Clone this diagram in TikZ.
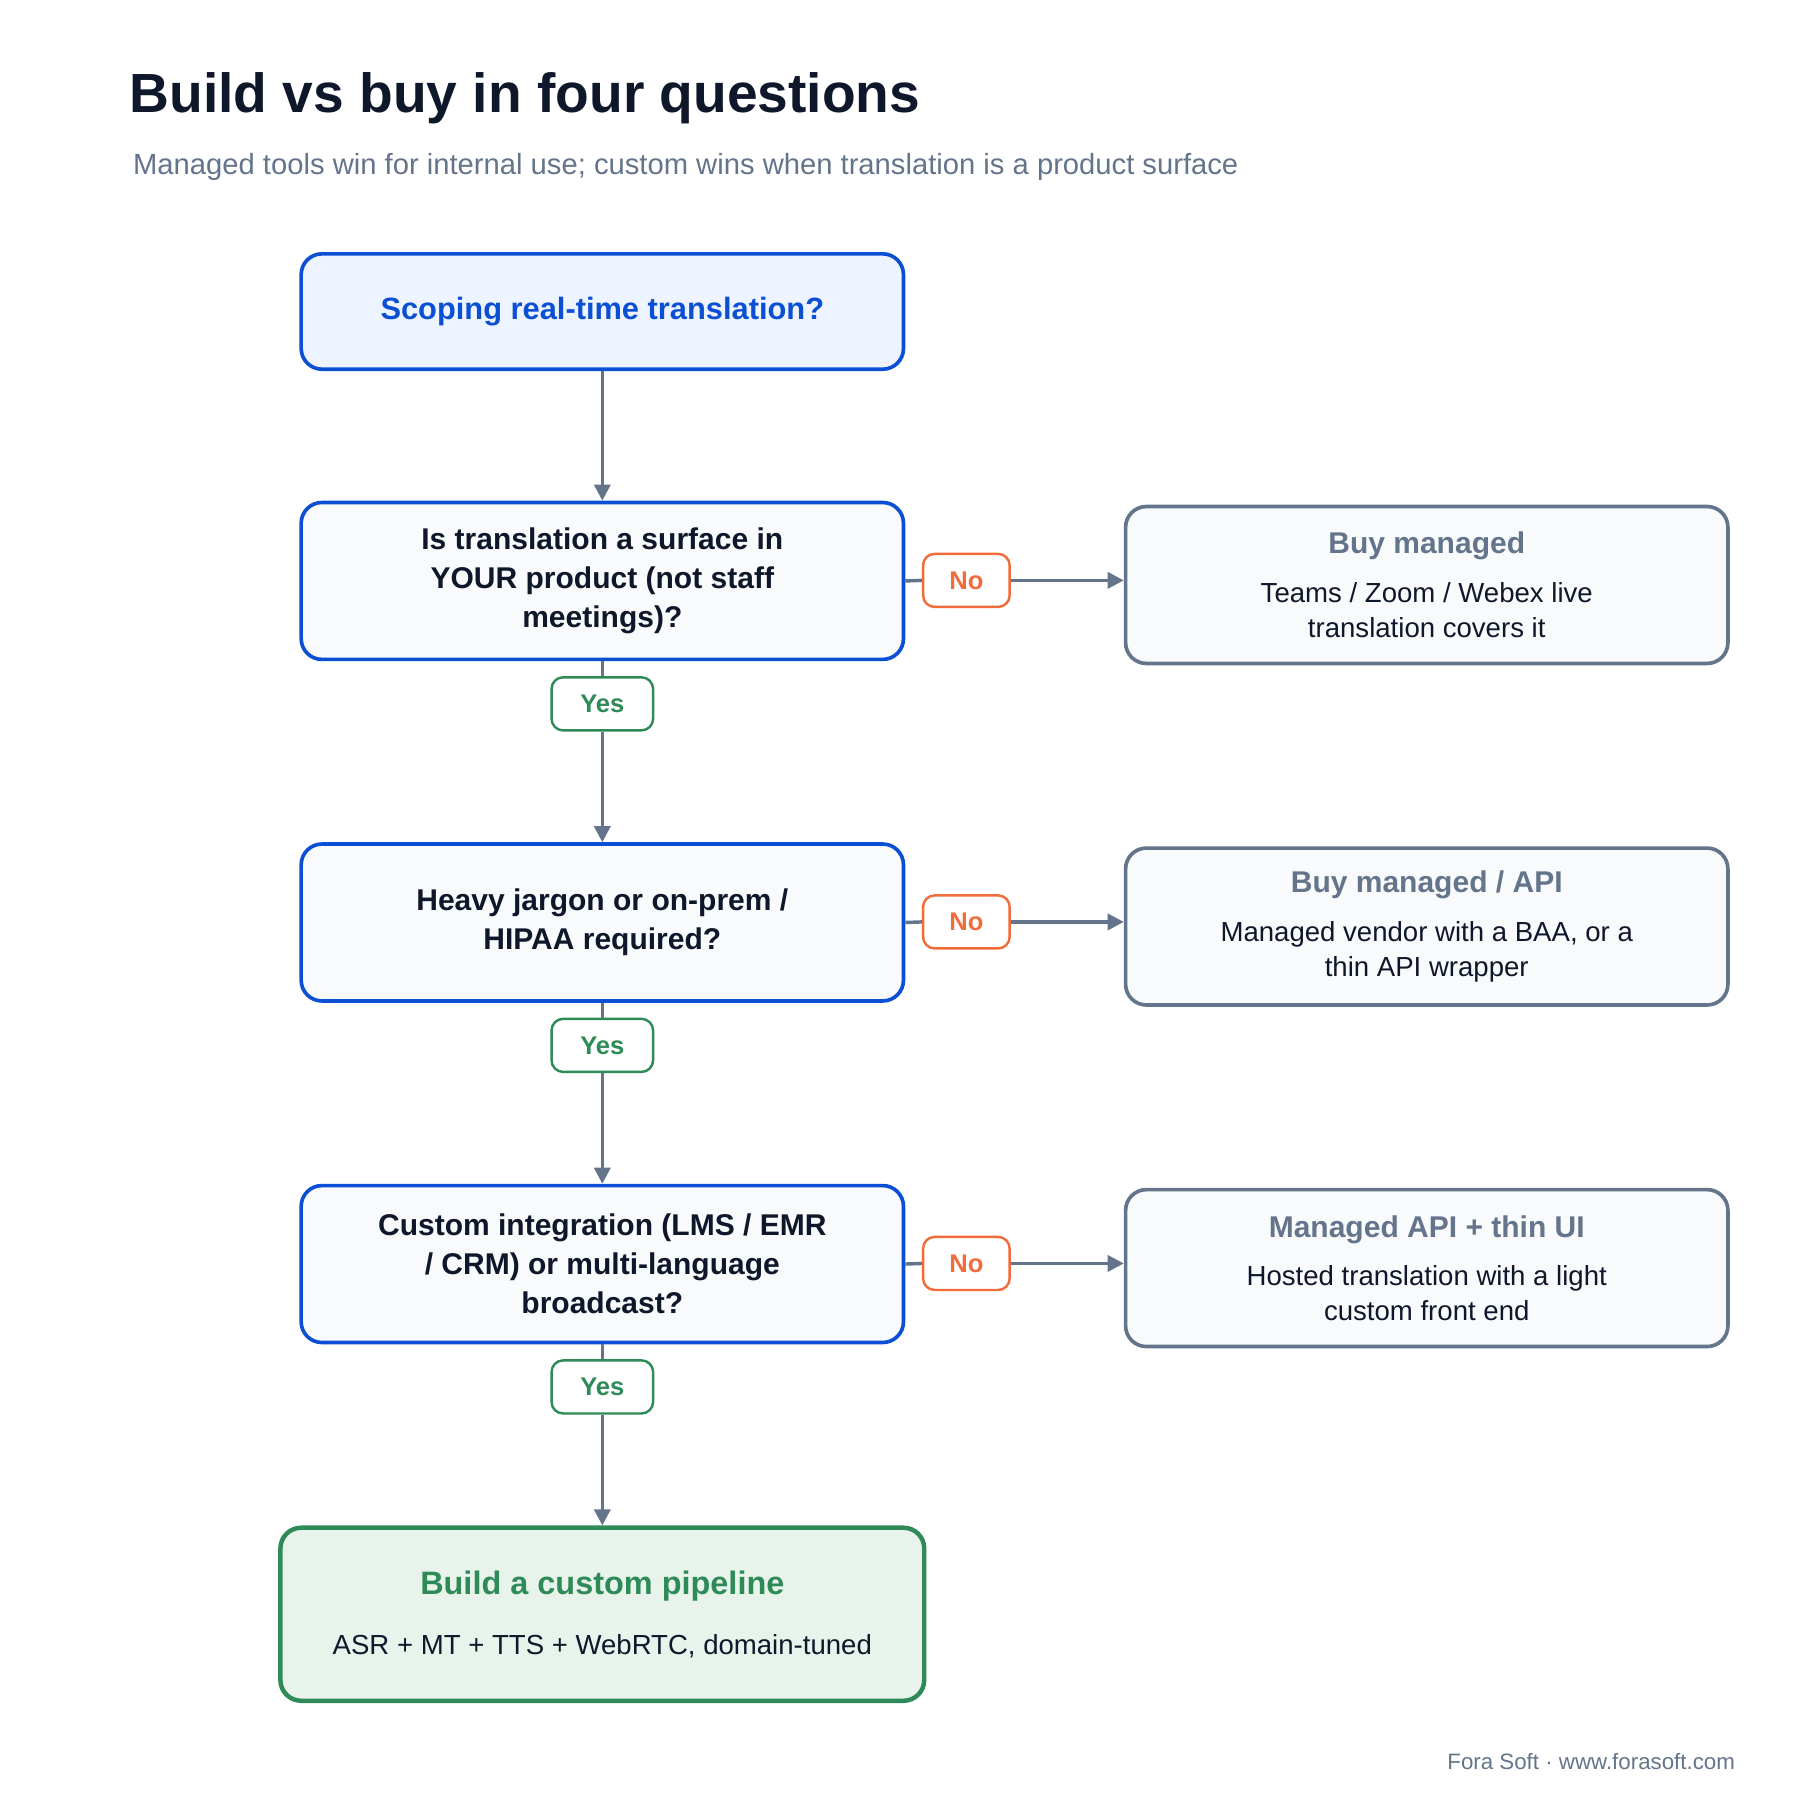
\documentclass[tikz,border=0pt]{standalone}
\usepackage{fontspec}
\setmainfont{Liberation Sans}
\usetikzlibrary{arrows.meta}
\usetikzlibrary{positioning}
\definecolor{ink}{HTML}{0F172A}
\definecolor{slate}{HTML}{64748B}
\definecolor{qblue}{HTML}{0B4FD4}
\definecolor{qfill}{HTML}{F8FAFC}
\definecolor{sfill}{HTML}{EEF4FF}
\definecolor{ygreen}{HTML}{2E8B57}
\definecolor{gfill}{HTML}{E8F3EC}
\definecolor{norange}{HTML}{F26B3A}
\tikzset{
  box/.style={draw, line width=0.9pt, rounded corners=0.18cm, align=center,
    minimum width=5.22cm, inner sep=0pt},
  question/.style={box, draw=qblue, fill=qfill, minimum height=1.36cm,
    font=\fontsize{7.4}{9.6}\selectfont\bfseries, text=ink},
  outcome/.style={box, draw=slate, fill=qfill, minimum height=1.36cm,
    font=\fontsize{6.8}{8.6}\selectfont, text=ink},
  tag/.style={draw, line width=0.6pt, rounded corners=0.1cm, fill=white,
    minimum height=0.46cm, font=\fontsize{6.3}{7}\selectfont\bfseries},
  no/.style={tag, draw=norange, text=norange, minimum width=0.75cm},
  yes/.style={tag, draw=ygreen, text=ygreen, minimum width=0.88cm},
  link/.style={draw=slate, line width=0.85pt},
  arrow/.style={link, -{Triangle[length=0.14cm,width=0.14cm]}}
}
\begin{document}
\begin{tikzpicture}
  \useasboundingbox (0,0) rectangle (15.6,-15.6);
  % heading
  \node[anchor=west, font=\fontsize{13.6}{16}\selectfont\bfseries, text=ink] (title) at (1.0,-0.85) {Build vs buy in four questions};
  \node[anchor=west, font=\fontsize{7.2}{9}\selectfont, text=slate] (sub) at (1.03,-1.45) {Managed tools win for internal use; custom wins when translation is a product surface};
  % main column
  \node[box, draw=qblue, fill=sfill, minimum height=1.0cm, text=qblue,
    font=\fontsize{7.6}{9.6}\selectfont\bfseries] (start) at (5.22,-2.70) {Scoping real-time translation?};
  \node[question] (q1) at (5.22,-5.035) {Is translation a surface in\\YOUR product (not staff\\meetings)?};
  \node[question] (q2) at (5.22,-7.995) {Heavy jargon or on-prem /\\HIPAA required?};
  \node[question] (q3) at (5.22,-10.955) {Custom integration (LMS / EMR\\/ CRM) or multi-language\\broadcast?};
  \node[box, draw=ygreen, fill=gfill, minimum width=5.58cm, minimum height=1.5cm,
    line width=1.1pt, font=\fontsize{6.8}{8.6}\selectfont, text=ink] (build) at (5.22,-13.99)
    {{\fontsize{8}{9}\selectfont\bfseries\color{ygreen}Build a custom pipeline}\\[0.22cm]ASR + MT + TTS + WebRTC, domain-tuned};
  % outcomes
  \node[outcome] (out1) at (12.365,-5.07) {{\fontsize{7.4}{9}\selectfont\bfseries\color{slate}Buy managed}\\[0.12cm]Teams / Zoom / Webex live\\translation covers it};
  \node[outcome] (out2) at (12.365,-8.03) {{\fontsize{7.4}{9}\selectfont\bfseries\color{slate}Buy managed / API}\\[0.12cm]Managed vendor with a BAA, or a\\thin API wrapper};
  \node[outcome] (out3) at (12.365,-10.99) {{\fontsize{7.4}{9}\selectfont\bfseries\color{slate}Managed API + thin UI}\\[0.12cm]Hosted translation with a light\\custom front end};
  % branch tags
  \node[no] (no1) at (8.375,-5.03) {No};
  \node[no] (no2) at (8.375,-7.99) {No};
  \node[no] (no3) at (8.375,-10.95) {No};
  \node[yes] (yes1) at (5.22,-6.10) {Yes};
  \node[yes] (yes2) at (5.22,-9.06) {Yes};
  \node[yes] (yes3) at (5.22,-12.02) {Yes};
  % connectors
  \draw[arrow] (start) -- (q1);
  \foreach \q/\n/\o in {q1/no1/out1, q2/no2/out2, q3/no3/out3} {
    \draw[link] (\q.east) -- (\n.west);
    \draw[arrow] (\n.east) -- (\n.east -| \o.west);
  }
  \foreach \q/\y/\t in {q1/yes1/q2, q2/yes2/q3, q3/yes3/build} {
    \draw[link] (\q.south) -- (\y.north);
    \draw[arrow] (\y.south) -- (\t.north);
  }
  % footer
  \node[anchor=east, font=\fontsize{5.5}{7}\selectfont, text=slate] (foot) at (15.16,-15.27) {Fora Soft · www.forasoft.com};
\end{tikzpicture}
\end{document}
